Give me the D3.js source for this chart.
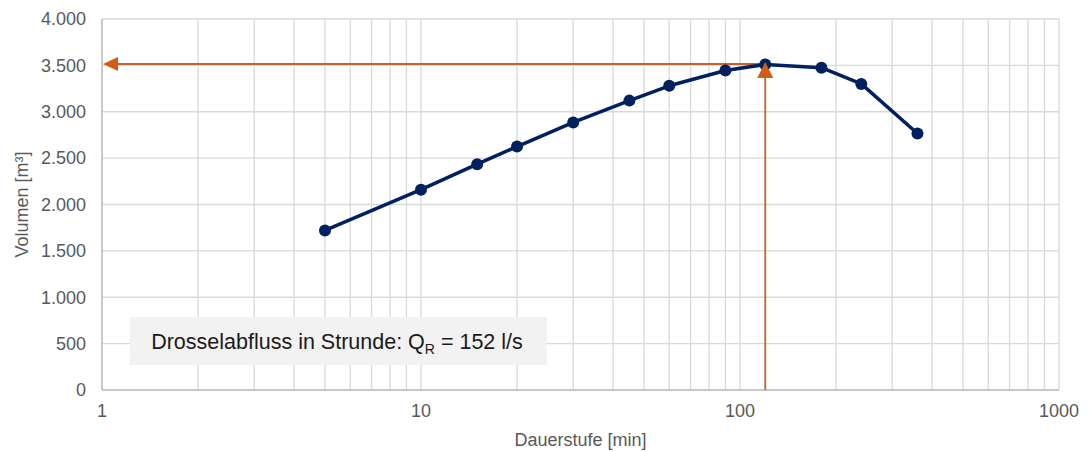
<!DOCTYPE html>
<html><head><meta charset="utf-8">
<script src="https://cdn.jsdelivr.net/npm/d3@7"></script>
<style>body{margin:0;background:#fff;}svg{display:block;font-family:"Liberation Sans",Arial,sans-serif;}</style>
</head><body><svg id="c" width="1092" height="452"></svg>
<script>
const durations = [5, 10, 15, 20, 30, 45, 60, 90, 120, 180, 240, 360];
const volumes = [1720, 2160, 2435, 2625, 2885, 3120, 3280, 3445, 3510, 3475, 3300, 2765];
const yTicks = [0, 500, 1000, 1500, 2000, 2500, 3000, 3500, 4000];
const xTickLabels = [1, 10, 100, 1000];
const markerDuration = [120];
const markerVolume = [3515];
const annotation = "Drosselabfluss in Strunde: Q";

const svg = d3.select("#c");
const m = {l:102, r:1059, t:19, b:390};
const x = d3.scaleLog().domain([1,1000]).range([m.l, m.r]);
const y = d3.scaleLinear().domain([0,4000]).range([m.b, m.t]);
const fmt = v => d3.format(",")(v).replace(/,/g, ".");

// minor verticals
const minor = [];
for (let d=1; d<1000; d*=10) for (let k=1;k<10;k++) minor.push(d*k);
minor.push(1000);
svg.append("g").selectAll("line").data(minor).join("line")
  .attr("x1", d=>x(d)).attr("x2", d=>x(d)).attr("y1", m.t).attr("y2", m.b)
  .attr("stroke", "#d9d9d9").attr("stroke-width", 1.3);
svg.append("g").selectAll("line").data(yTicks).join("line")
  .attr("x1", m.l).attr("x2", m.r).attr("y1", d=>y(d)).attr("y2", d=>y(d))
  .attr("stroke", "#d9d9d9").attr("stroke-width", 1.3);
// axes lines
svg.append("line").attr("x1", m.l).attr("x2", m.l).attr("y1", m.t).attr("y2", m.b).attr("stroke","#bfbfbf").attr("stroke-width",1.5);
svg.append("line").attr("x1", m.l).attr("x2", m.r).attr("y1", m.b).attr("y2", m.b).attr("stroke","#bfbfbf").attr("stroke-width",1.5);

// tick labels
svg.append("g").selectAll("text").data(yTicks).join("text")
  .attr("x", 86).attr("y", d=>y(d)).attr("dy","0.35em").attr("text-anchor","end")
  .attr("font-size", 18).attr("fill","#595959").text(fmt);
svg.append("g").selectAll("text").data(xTickLabels).join("text")
  .attr("x", d=>x(d)).attr("y", 417).attr("text-anchor","middle")
  .attr("font-size", 18).attr("fill","#595959").text(d=>d);

// axis titles
svg.append("text").attr("x", (m.l+m.r)/2).attr("y", 446).attr("text-anchor","middle")
  .attr("font-size", 18).attr("fill","#595959").text("Dauerstufe [min]");
svg.append("text").attr("transform", `translate(28,${(m.t+m.b)/2}) rotate(-90)`).attr("text-anchor","middle")
  .attr("font-size", 18).attr("fill","#595959").text("Volumen [m³]");

// annotation box
svg.append("rect").attr("x",130).attr("y",317).attr("width",417).attr("height",48).attr("fill","#f2f2f2");
const t = svg.append("text").attr("x", 337).attr("y", 349).attr("text-anchor","middle")
  .attr("font-size", 21.5).attr("fill","#1a1a1a");
t.append("tspan").text(annotation);
t.append("tspan").attr("font-size", 14).attr("dy", 5).text("R");
t.append("tspan").attr("dy", -5).text(" = 152 l/s");

// orange guide lines
const ox = x(markerDuration[0]), oy = y(markerVolume[0]);
const orangeLine = "#c4642a";
const orangeHead = "#d45d14";
svg.append("line").attr("x1", ox).attr("x2", m.l+10).attr("y1", oy).attr("y2", oy).attr("stroke", orangeLine).attr("stroke-width", 1.8);
svg.append("line").attr("x1", ox).attr("x2", ox).attr("y1", m.b).attr("y2", oy+10).attr("stroke", orangeLine).attr("stroke-width", 1.8);
svg.append("path").attr("d", `M${m.l+1},${oy} L${m.l+16},${oy-7} L${m.l+16},${oy+7} Z`).attr("fill", orangeHead);

// line + markers
const pts = durations.map((d,i)=>[d, volumes[i]]);
svg.append("path").datum(pts).attr("fill","none").attr("stroke","#002060").attr("stroke-width",3.5)
  .attr("stroke-linejoin","round")
  .attr("d", d3.line().x(d=>x(d[0])).y(d=>y(d[1])));
svg.append("g").selectAll("circle").data(pts).join("circle")
  .attr("cx", d=>x(d[0])).attr("cy", d=>y(d[1])).attr("r", 6).attr("fill","#002060");
svg.append("path").attr("d", `M${ox},${oy-2} L${ox-8},${oy+14} L${ox+8},${oy+14} Z`).attr("fill", orangeHead);
</script></body></html>
